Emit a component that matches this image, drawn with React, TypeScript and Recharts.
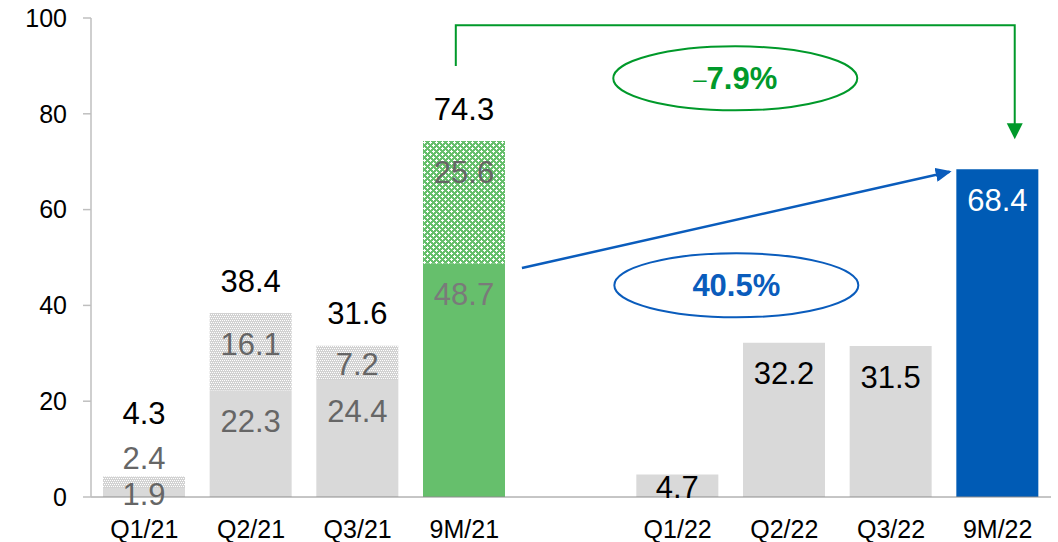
import React from 'react';
import * as Recharts from 'recharts';
import { BarChart, Bar, XAxis, YAxis, Cell, LabelList } from 'recharts';

// ---- data ----
const categories = ['Q1/21', 'Q2/21', 'Q3/21', '9M/21', '', 'Q1/22', 'Q2/22', 'Q3/22', '9M/22'];
const baseValues = [1.9, 22.3, 24.4, 48.7, null, 4.7, 32.2, 31.5, 68.4];
const topValues = [2.4, 16.1, 7.2, 25.6, null, null, null, null, null];
const totalValues = [4.3, 38.4, 31.6, 74.3, null, null, null, null, null];
const yTicks = [0, 20, 40, 60, 80, 100];
const yDomain = [0, 100];
const declineLabel = '7.9%';
const growthLabel = '40.5%';

// ---- styles ----
const FONT = '"Liberation Sans", Arial, Helvetica, sans-serif';
const GREY = '#d9d9d9';
const GREEN = '#66bf6c';
const BLUE = '#005bb5';
const ANN_GREEN = '#00992a';
const ANN_BLUE = '#0a5cbc';
const baseFills = [GREY, GREY, GREY, GREEN, GREY, GREY, GREY, GREY, BLUE];
const topFills = ['url(#patGrey)', 'url(#patGrey)', 'url(#patGrey)', 'url(#patGreen)', 'none', 'none', 'none', 'none', 'none'];
const baseLabelColor: Record<string, string> = {
  'Q1/21': '#666666',
  'Q2/21': '#666666',
  'Q3/21': '#666666',
  '9M/21': '#7a7a7a',
  'Q1/22': '#000000',
  'Q2/22': '#000000',
  'Q3/22': '#000000',
  '9M/22': '#ffffff',
};

// annotation anchors in data units (x: category slot units, slot i spans i..i+1; y: value units)
const bracket = { xFrom: 3.42, xTo: 8.66, yStart: 90.0, yTop: 98.5, yTip: 74.7 };
const growthArrow = { x1: 4.04, y1: 47.8, x2: 8.05, y2: 67.9 };
const declineBubble = { x: 6.04, y: 87.4 };
const growthBubble = { x: 6.05, y: 44.2 };

const data = categories.map((c, i) => ({
  name: c,
  base: baseValues[i],
  top: topValues[i],
  total: totalValues[i],
}));

const fmt = (v: any) => (typeof v === 'number' ? v.toFixed(1) : String(v));

const getBox = (p: any) => {
  const vb = p.viewBox || {};
  return {
    x: Number(p.x ?? vb.x),
    y: Number(p.y ?? vb.y),
    width: Number(p.width ?? vb.width),
    height: Number(p.height ?? vb.height),
  };
};

const BaseLabel = (props: any) => {
  const { value } = props;
  if (value == null || value === '') return null;
  const [name, num] = String(value).split('|');
  const { x, y, width, height } = getBox(props);
  const cy = y + Math.min(31, height / 2 + 2);
  return (
    <text x={x + width / 2} y={cy} textAnchor="middle" dominantBaseline="central" fontSize={31} fontFamily={FONT} fill={baseLabelColor[name] || '#000'}>
      {fmt(Number(num))}
    </text>
  );
};

const TopLabel = (props: any) => {
  const { value } = props;
  if (value == null) return null;
  const { x, y, width, height } = getBox(props);
  const cy = height < 20 ? y - 18 : y + Math.min(31, height / 2 + 2);
  return (
    <text x={x + width / 2} y={cy} textAnchor="middle" dominantBaseline="central" fontSize={31} fontFamily={FONT} fill="#666666">
      {fmt(value)}
    </text>
  );
};

const TotalLabel = (props: any) => {
  const { value } = props;
  if (value == null) return null;
  const { x, y, width, height } = getBox(props);
  const cy = height < 20 ? y - 63 : y - 32;
  return (
    <text x={x + width / 2} y={cy} textAnchor="middle" dominantBaseline="central" fontSize={31} fontFamily={FONT} fill="#000000">
      {fmt(value)}
    </text>
  );
};

const usePlotAreaHook: any = (Recharts as any).usePlotArea || (() => null);

const Annotations = () => {
  const plot = usePlotAreaHook();
  const px = plot && typeof plot.x === 'number' ? plot.x : 91;
  const py = plot && typeof plot.y === 'number' ? plot.y : 18;
  const pw = plot && typeof plot.width === 'number' ? plot.width : 960;
  const ph = plot && typeof plot.height === 'number' ? plot.height : 479;
  const X = (u: number) => px + (u * pw) / categories.length;
  const Y = (v: number) => py + ph * (1 - (v - yDomain[0]) / (yDomain[1] - yDomain[0]));
  const bubble = (cx: number, cy: number, color: string, text: string, dash: boolean) => (
    <g>
      <ellipse cx={cx} cy={cy} rx={122} ry={32} fill="#ffffff" stroke={color} strokeWidth={2} />
      <text x={cx} y={cy} textAnchor="middle" dominantBaseline="central" fontFamily={FONT} fill={color}>
        {dash ? <tspan fontSize={24} fontWeight="normal">–</tspan> : null}
        <tspan fontSize={31} fontWeight="bold">{text}</tspan>
      </text>
    </g>
  );
  return (
    <g className="annotations">
      <polyline
        points={`${X(bracket.xFrom)},${Y(bracket.yStart)} ${X(bracket.xFrom)},${Y(bracket.yTop)} ${X(bracket.xTo)},${Y(bracket.yTop)} ${X(bracket.xTo)},${Y(bracket.yTip) - 14}`}
        fill="none"
        stroke={ANN_GREEN}
        strokeWidth={2}
      />
      <path
        d={`M${X(bracket.xTo) - 8},${Y(bracket.yTip) - 16} L${X(bracket.xTo) + 8},${Y(bracket.yTip) - 16} L${X(bracket.xTo)},${Y(bracket.yTip)} Z`}
        fill={ANN_GREEN}
      />
      <line
        x1={X(growthArrow.x1)}
        y1={Y(growthArrow.y1)}
        x2={X(growthArrow.x2)}
        y2={Y(growthArrow.y2)}
        stroke={ANN_BLUE}
        strokeWidth={2.5}
        markerEnd="url(#arrowBlue)"
      />
      {bubble(X(declineBubble.x), Y(declineBubble.y), ANN_GREEN, declineLabel, true)}
      {bubble(X(growthBubble.x), Y(growthBubble.y), ANN_BLUE, growthLabel, false)}
    </g>
  );
};

export default function App() {
  return (
    <div style={{ position: 'absolute', left: 0, top: 0, background: '#fff' }}>
      <BarChart width={1058} height={542} data={data} margin={{ top: 18, right: 7, bottom: 0, left: 0 }} barSize={82}>
        <defs>
          <pattern id="patGrey" width="4" height="4" patternUnits="userSpaceOnUse">
            <rect width="4" height="4" fill="#d2d2d2" />
            <rect x="0" y="0" width="1" height="1" fill="#ffffff" />
            <rect x="2" y="0" width="1" height="1" fill="#ffffff" />
            <rect x="1" y="2" width="1" height="1" fill="#ffffff" />
            <rect x="3" y="2" width="1" height="1" fill="#ffffff" />
          </pattern>
          <pattern id="patGreen" width="6" height="6" patternUnits="userSpaceOnUse">
            <rect width="6" height="6" fill={GREEN} />
            <rect x="1" y="0" width="1" height="3" fill="#ffffff" />
            <rect x="0" y="1" width="3" height="1" fill="#ffffff" />
            <rect x="4" y="3" width="1" height="3" fill="#ffffff" />
            <rect x="3" y="4" width="3" height="1" fill="#ffffff" />
          </pattern>
          <marker id="arrowBlue" viewBox="0 0 16 14" refX="14" refY="7" markerWidth="16" markerHeight="14" markerUnits="userSpaceOnUse" orient="auto">
            <path d="M0,0 L16,7 L0,14 Z" fill={ANN_BLUE} />
          </marker>
        </defs>
        <XAxis
          dataKey="name"
          interval={0}
          height={45}
          tickLine={false}
          tickSize={8}
          tickMargin={15}
          axisLine={{ stroke: '#8c8c8c', strokeWidth: 1 }}
          tick={{ fontSize: 25, fill: '#000', fontFamily: FONT }}
        />
        <YAxis
          width={91}
          domain={yDomain}
          ticks={yTicks}
          interval={0}
          tickSize={8}
          tickMargin={16}
          axisLine={{ stroke: '#bfbfbf', strokeWidth: 1.5 }}
          tickLine={{ stroke: '#bfbfbf', strokeWidth: 1.5 }}
          tick={{ fontSize: 25, fill: '#000', fontFamily: FONT }}
        />
        <Bar dataKey="base" stackId="s" isAnimationActive={false}>
          {data.map((_, i) => (
            <Cell key={`b${i}`} fill={baseFills[i]} />
          ))}
          <LabelList dataKey={(d: any) => (d.base == null ? null : `${d.name}|${d.base}`)} content={BaseLabel} />
        </Bar>
        <Bar dataKey="top" stackId="s" isAnimationActive={false}>
          {data.map((_, i) => (
            <Cell key={`t${i}`} fill={topFills[i]} />
          ))}
          <LabelList dataKey="top" content={TopLabel} />
          <LabelList dataKey="total" content={TotalLabel} />
        </Bar>
        <Annotations />
      </BarChart>
    </div>
  );
}
